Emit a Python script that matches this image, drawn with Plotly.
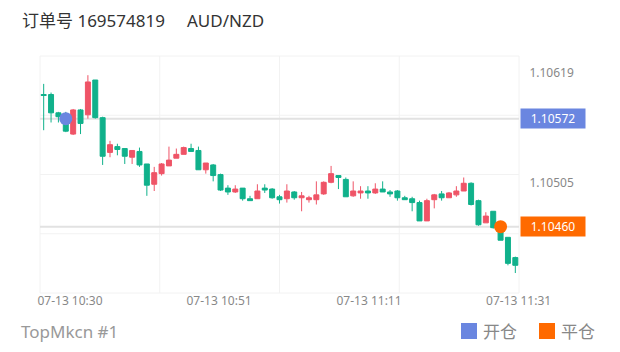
import plotly.graph_objects as go

# ---------------- data ----------------
order_title = "订单号 169574819"
symbol = "AUD/NZD"
footer = "TopMkcn #1"
legend_labels = ["开仓", "平仓"]

open_ = [1.10597, 1.10597, 1.10578, 1.10576, 1.10556, 1.10581, 1.10576, 1.10612, 1.10573, 1.10537,
         1.10543, 1.10541, 1.10532, 1.10538, 1.10525, 1.10504, 1.10515, 1.10523, 1.10531, 1.10535,
         1.10541, 1.10539, 1.10519, 1.10524, 1.10514, 1.10500, 1.10496, 1.10500, 1.10489, 1.10489,
         1.10500, 1.10499, 1.10491, 1.10489, 1.10496, 1.10490, 1.10488, 1.10488, 1.10494, 1.10506,
         1.10513, 1.10509, 1.10492, 1.10495, 1.10497, 1.10495, 1.10499, 1.10496, 1.10497, 1.10490,
         1.10489, 1.10485, 1.10466, 1.10488, 1.10494, 1.10490, 1.10493, 1.10497, 1.10505, 1.10487,
         1.10464, 1.10476, 1.10459, 1.10449, 1.10428]
close = [1.10596, 1.10578, 1.10574, 1.10559, 1.10581, 1.10567, 1.10610, 1.10573, 1.10533, 1.10545,
         1.10540, 1.10533, 1.10539, 1.10524, 1.10503, 1.10516, 1.10525, 1.10529, 1.10535, 1.10542,
         1.10538, 1.10519, 1.10526, 1.10513, 1.10498, 1.10496, 1.10499, 1.10489, 1.10487, 1.10497,
         1.10498, 1.10490, 1.10488, 1.10497, 1.10490, 1.10492, 1.10490, 1.10493, 1.10506, 1.10515,
         1.10511, 1.10491, 1.10497, 1.10497, 1.10495, 1.10499, 1.10496, 1.10494, 1.10490, 1.10488,
         1.10485, 1.10466, 1.10487, 1.10493, 1.10490, 1.10495, 1.10497, 1.10505, 1.10483, 1.10462,
         1.10471, 1.10459, 1.10446, 1.10422, 1.10420]
high = [1.10608, 1.10599, 1.10579, 1.10579, 1.10582, 1.10582, 1.10617, 1.10612, 1.10574, 1.10549,
        1.10546, 1.10541, 1.10539, 1.10542, 1.10525, 1.10522, 1.10526, 1.10543, 1.10541, 1.10543,
        1.10546, 1.10543, 1.10526, 1.10525, 1.10515, 1.10503, 1.10503, 1.10500, 1.10492, 1.10504,
        1.10504, 1.10500, 1.10493, 1.10504, 1.10497, 1.10496, 1.10492, 1.10507, 1.10507, 1.10523,
        1.10513, 1.10511, 1.10507, 1.10502, 1.10502, 1.10505, 1.10507, 1.10498, 1.10498, 1.10492,
        1.10491, 1.10487, 1.10489, 1.10494, 1.10497, 1.10496, 1.10502, 1.10511, 1.10506, 1.10488,
        1.10475, 1.10476, 1.10461, 1.10449, 1.10429]
low = [1.10560, 1.10568, 1.10568, 1.10558, 1.10555, 1.10556, 1.10572, 1.10572, 1.10524, 1.10532,
       1.10534, 1.10525, 1.10525, 1.10522, 1.10492, 1.10497, 1.10513, 1.10523, 1.10531, 1.10535,
       1.10538, 1.10519, 1.10515, 1.10507, 1.10497, 1.10493, 1.10495, 1.10487, 1.10487, 1.10489,
       1.10495, 1.10489, 1.10484, 1.10485, 1.10488, 1.10476, 1.10485, 1.10483, 1.10493, 1.10505,
       1.10499, 1.10491, 1.10491, 1.10489, 1.10489, 1.10494, 1.10496, 1.10491, 1.10487, 1.10488,
       1.10476, 1.10466, 1.10466, 1.10479, 1.10487, 1.10490, 1.10491, 1.10497, 1.10482, 1.10461,
       1.10464, 1.10458, 1.10446, 1.10420, 1.10412]

x_tick_text = ["07-13 10:30", "07-13 10:51", "07-13 11:11", "07-13 11:31"]
x_tick_pos = [3.57, 23.8, 44.15, 64.45]
y_tick_vals = [1.10619, 1.10505]

entry_idx, entry_price = 3, 1.10572
exit_idx, exit_price = 62, 1.10460

# ---------------- style ----------------
UP = "#ef5467"      # increasing (red)
DOWN = "#10b18b"    # decreasing (green)
BLUE = "#6a86e0"
ORANGE = "#ff6a00"
GRID = "#f2f2f2"
FONT = "Noto Sans, Noto Sans CJK SC, sans-serif"

W, H = 620, 352
L, R, T, B = 40, 101, 56, 59
PW, PH = W - L - R, H - T - B


def px(xp):
    return (xp - L) / PW


def py(yp):
    return (H - B - yp) / PH


n = len(open_)
xs = list(range(n))

fig = go.Figure()
fig.add_trace(go.Candlestick(
    x=xs, open=open_, high=high, low=low, close=close,
    increasing=dict(line=dict(color=UP, width=1), fillcolor=UP),
    decreasing=dict(line=dict(color=DOWN, width=1), fillcolor=DOWN),
    whiskerwidth=0, hoverinfo="skip", showlegend=False,
))

shapes = []
# grid
for f in [0, 0.25, 0.5, 0.75, 1]:
    shapes.append(dict(type="line", xref="paper", yref="paper", x0=f, x1=f, y0=0, y1=1,
                       line=dict(color=GRID, width=1), layer="below"))
    shapes.append(dict(type="line", xref="paper", yref="paper", x0=0, x1=1, y0=f, y1=f,
                       line=dict(color=GRID, width=1), layer="below"))
# price lines
for p in [entry_price, exit_price]:
    shapes.append(dict(type="line", xref="paper", yref="y", x0=0, x1=1, y0=p, y1=p,
                       line=dict(color="#e2e2e2", width=2), layer="below"))
# legend squares
shapes.append(dict(type="rect", xref="paper", yref="paper", x0=px(461), x1=px(477),
                   y0=py(339), y1=py(323), fillcolor=BLUE, line=dict(width=0)))
shapes.append(dict(type="rect", xref="paper", yref="paper", x0=px(539), x1=px(555),
                   y0=py(339), y1=py(323), fillcolor=ORANGE, line=dict(width=0)))

fig.add_trace(go.Scatter(x=[entry_idx], y=[entry_price], mode="markers",
                         marker=dict(size=13, color=BLUE), hoverinfo="skip", showlegend=False))
fig.add_trace(go.Scatter(x=[exit_idx], y=[exit_price], mode="markers",
                         marker=dict(size=13, color=ORANGE), hoverinfo="skip", showlegend=False))

annotations = [
    dict(text=order_title, xref="paper", yref="paper", x=px(20), y=py(20.5), xanchor="left",
         yanchor="middle", showarrow=False, font=dict(size=17, color="#333333", family=FONT)),
    dict(text=symbol, xref="paper", yref="paper", x=px(185), y=py(20.5), xanchor="left",
         yanchor="middle", showarrow=False, font=dict(size=17, color="#333333", family=FONT)),
    dict(text=footer, xref="paper", yref="paper", x=px(19), y=py(331), xanchor="left",
         yanchor="middle", showarrow=False, font=dict(size=17, color="#999999", family=FONT)),
    dict(text=legend_labels[0], xref="paper", yref="paper", x=px(481), y=py(331), xanchor="left",
         yanchor="middle", showarrow=False, font=dict(size=17, color="#888888", family=FONT)),
    dict(text=legend_labels[1], xref="paper", yref="paper", x=px(559), y=py(331), xanchor="left",
         yanchor="middle", showarrow=False, font=dict(size=17, color="#888888", family=FONT)),
]
for p, c in [(entry_price, BLUE), (exit_price, ORANGE)]:
    annotations.append(dict(text=f"{p:.5f}", xref="paper", yref="y", x=1, y=p, xanchor="left",
                            yanchor="middle", xshift=1, showarrow=False, bgcolor=c,
                            width=64, height=19, borderpad=0, align="center",
                            font=dict(size=12, color="white", family=FONT)))

fig.update_layout(
    width=W, height=H,
    margin=dict(l=L, r=R, t=T, b=B),
    paper_bgcolor="white", plot_bgcolor="white",
    shapes=shapes, annotations=annotations,
    showlegend=False,
    boxgap=0.25, boxgroupgap=0.1,
    xaxis=dict(range=[-0.5, n - 0.5], rangeslider=dict(visible=False), showgrid=False,
               zeroline=False, showline=False, tickmode="array", tickvals=x_tick_pos,
               ticktext=x_tick_text, ticks="", ticklabelstandoff=-1,
               tickfont=dict(size=12, color="#888888", family=FONT), fixedrange=True),
    yaxis=dict(range=[1.103913, 1.106369], side="right", showgrid=False, zeroline=False,
               showline=False, tickmode="array", tickvals=y_tick_vals,
               ticktext=[f"{v:.5f}" for v in y_tick_vals], ticks="outside", ticklen=7,
               tickcolor="rgba(0,0,0,0)", tickfont=dict(size=12, color="#888888", family=FONT),
               fixedrange=True),
    hovermode=False,
)

fig.write_html("out.html", config={"displayModeBar": False})
